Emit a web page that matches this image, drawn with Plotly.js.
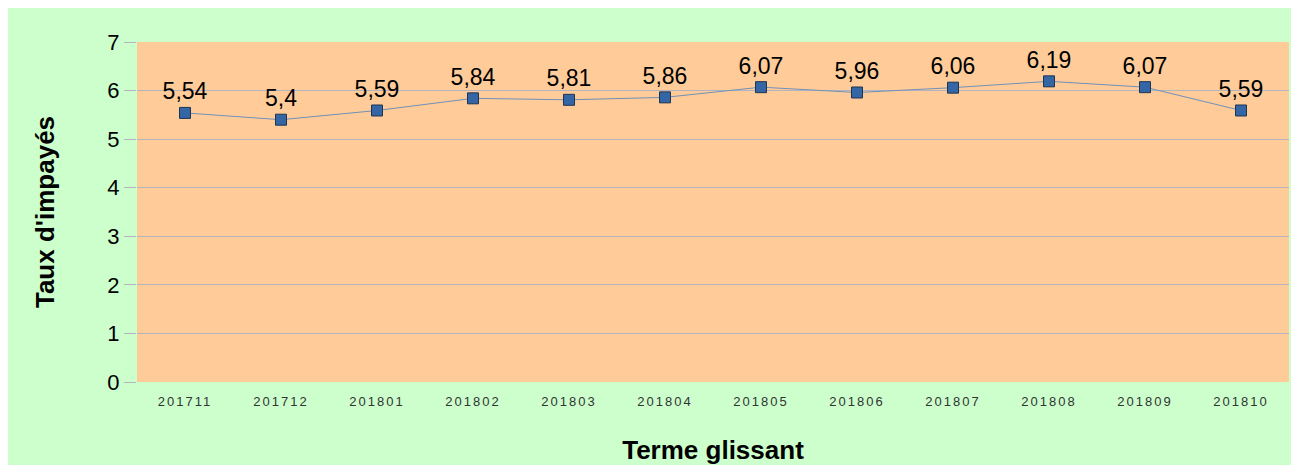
<!DOCTYPE html>
<html>
<head>
<meta charset="utf-8">
<script src="https://cdn.plot.ly/plotly-3.0.1.min.js"></script>
<style>
  html, body { margin: 0; padding: 0; background: #ffffff; }
  #chart { position: absolute; left: 8px; top: 8px; width: 1283px; height: 457px; }
  .xtick text { letter-spacing: 2px; }
</style>
</head>
<body>
<div id="chart"></div>
<script>
const categories = ['201711','201712','201801','201802','201803','201804','201805','201806','201807','201808','201809','201810'];
const tauxImpayes = [5.54, 5.4, 5.59, 5.84, 5.81, 5.86, 6.07, 5.96, 6.06, 6.19, 6.07, 5.59];
const yTicks = [0, 1, 2, 3, 4, 5, 6, 7];

const labels = tauxImpayes.map(v => String(v).replace('.', ','));

const trace = {
  x: categories,
  y: tauxImpayes,
  type: 'scatter',
  mode: 'lines+markers+text',
  text: labels,
  textposition: 'top center',
  textfont: { family: 'Liberation Sans, Arial, sans-serif', size: 23, color: '#000000' },
  line: { color: '#7090b8', width: 1 },
  marker: { symbol: 'square', size: 11, color: '#3465a4', line: { color: '#1e3552', width: 1 } },
  cliponaxis: false,
  hoverinfo: 'skip'
};

const layout = {
  width: 1283,
  height: 457,
  paper_bgcolor: '#ccffcc',
  plot_bgcolor: '#ffcc99',
  margin: { l: 129, r: 2, t: 34, b: 83 },
  showlegend: false,
  font: { family: 'Liberation Sans, Arial, sans-serif', color: '#000000' },
  xaxis: {
    type: 'category',
    range: [-0.5, 11.5],
    showgrid: false,
    zeroline: false,
    showline: false,
    ticks: '',
    ticklabelstandoff: 10,
    tickfont: { family: 'Liberation Sans, Arial, sans-serif', size: 13, color: '#333333' },
    title: { text: 'Terme glissant', font: { size: 26, color: '#000000', weight: 'bold' }, standoff: 34 },
    automargin: false
  },
  yaxis: {
    range: [0, 7],
    tickvals: yTicks,
    showgrid: true,
    gridcolor: '#b4b4c0',
    gridwidth: 1,
    zeroline: false,
    showline: false,
    ticks: 'outside',
    ticklen: 12,
    tickcolor: '#b4b4c0',
    tickfont: { family: 'Liberation Sans, Arial, sans-serif', size: 22, color: '#000000' },
    title: { text: "Taux d'impayés", font: { size: 26, color: '#000000', weight: 'bold' }, standoff: 45 },
    automargin: false
  }
};

Plotly.newPlot('chart', [trace], layout, { displayModeBar: false, staticPlot: true });
</script>
</body>
</html>
